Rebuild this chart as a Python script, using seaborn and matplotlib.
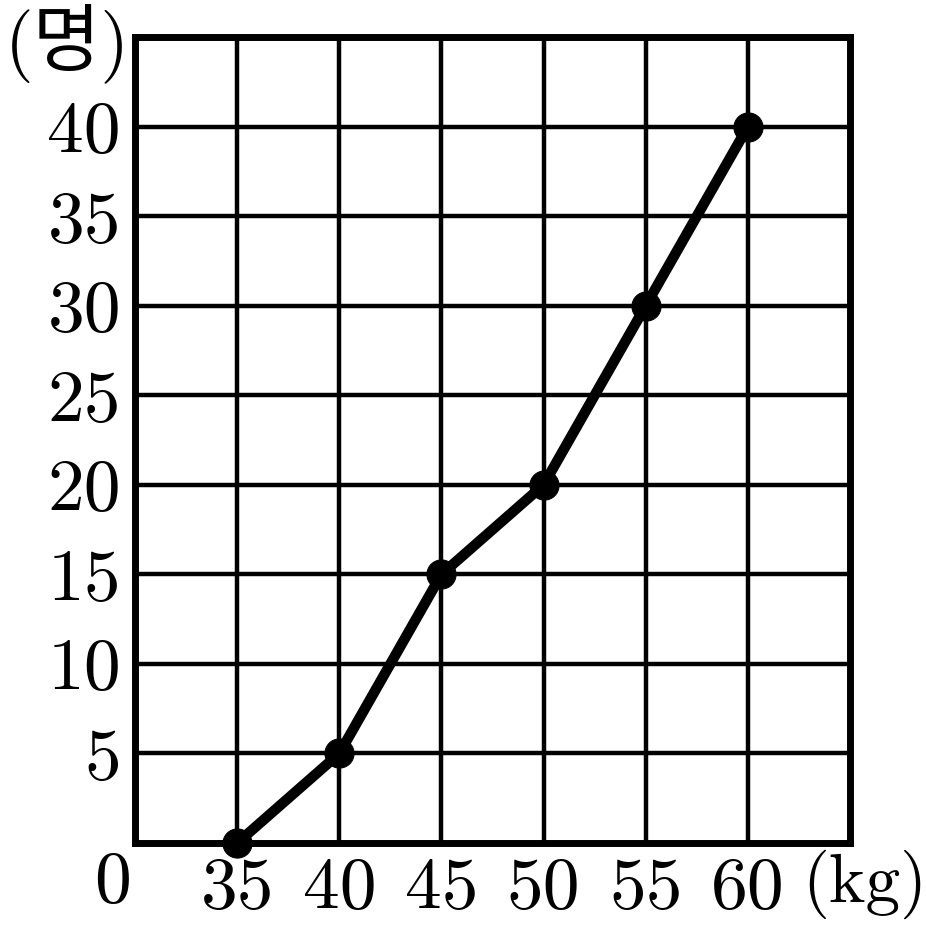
import matplotlib
matplotlib.use("Agg")
import matplotlib.pyplot as plt
import seaborn as sns
import pandas as pd

# weight (kg) vs cumulative count (명)
weights = [35, 40, 45, 50, 55, 60]
counts = [0, 5, 15, 20, 30, 40]
x_labels = ["35", "40", "45", "50", "55", "60"]
y_labels = ["5", "10", "15", "20", "25", "30", "35", "40"]

df = pd.DataFrame({"weight": weights, "count": counts})

sns.set_style("white")
plt.rcParams["font.family"] = ["cmr10", "Noto Sans CJK KR"]
plt.rcParams["axes.unicode_minus"] = False
plt.rcParams["text.color"] = "black"
plt.rcParams["xtick.color"] = "black"
plt.rcParams["ytick.color"] = "black"

FS = 53

fig = plt.figure(figsize=(9.26, 9.41), dpi=100)
ax = fig.add_axes([0.1458, 0.1041, 0.918 - 0.1458, 0.9607 - 0.1041])

sns.lineplot(data=df, x="weight", y="count", ax=ax, color="black", lw=7.5,
             marker="o", markersize=21, markeredgecolor="black", zorder=5,
             clip_on=False)

ax.set_xlim(30, 65)
ax.set_ylim(0, 45)
ax.set_xticks(range(30, 66, 5))
ax.set_yticks(range(0, 46, 5))
ax.set_xticklabels([""] + x_labels + [""])
ax.set_yticklabels([""] + y_labels + [""])
ax.grid(True, color="black", lw=3.2)
ax.set_axisbelow(True)
for s in ax.spines.values():
    s.set_color("black")
    s.set_linewidth(5)
ax.tick_params(length=0, labelsize=FS, pad=10, colors="black")
ax.set_xlabel("")
ax.set_ylabel("")

fig.text(113 / 926, 1 - 884 / 941, "0", ha="center", va="center", fontsize=FS)
fig.text(802 / 926, 1 - 884 / 941, "(kg)", ha="left", va="center", fontsize=50)
fig.text(5 / 926, 1 - 43 / 941, "(명)", ha="left", va="center", fontsize=FS)

fig.savefig("out.png", dpi=100)
